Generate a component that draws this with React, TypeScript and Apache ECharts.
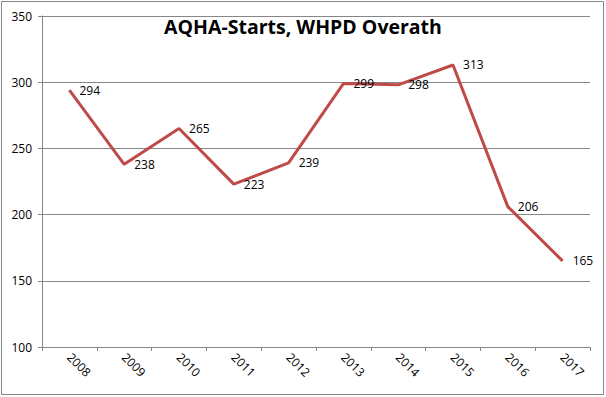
import React, { useEffect, useRef } from "react";
import * as echarts from "echarts";

const years = ["2008", "2009", "2010", "2011", "2012", "2013", "2014", "2015", "2016", "2017"];
const starts = [294, 238, 265, 223, 239, 299, 298, 313, 206, 165];
const titleText = "AQHA-Starts, WHPD Overath";

export default function App() {
  const ref = useRef<HTMLDivElement>(null);
  useEffect(() => {
    if (!ref.current) return;
    const chart = echarts.init(ref.current, null, { renderer: "svg" });
    const font = "'Open Sans', 'Liberation Sans', sans-serif";
    chart.setOption({
      animation: false,
      backgroundColor: "#ffffff",
      title: {
        text: titleText,
        left: "center",
        top: 11,
        textStyle: { fontFamily: font, fontSize: 19.5, fontWeight: "bold", color: "#000" },
      },
      graphic: [
        {
          type: "rect",
          shape: { x: 1.5, y: 1.5, width: 602, height: 393 },
          style: { fill: "none", stroke: "#868686", lineWidth: 1 },
          silent: true,
        },
      ],
      grid: { left: 42, right: 16, top: 16, bottom: 50 },
      xAxis: {
        type: "category",
        data: years,
        boundaryGap: true,
        axisLine: { lineStyle: { color: "#868686", width: 1 } },
        axisTick: { show: true, inside: false, length: 4, lineStyle: { color: "#868686" } },
        axisLabel: { rotate: -45, margin: 8, fontFamily: font, fontSize: 12, color: "#000" },
        splitLine: { show: false },
      },
      yAxis: {
        type: "value",
        min: 100,
        max: 350,
        interval: 50,
        axisLine: { show: true, lineStyle: { color: "#868686", width: 1 } },
        axisTick: { show: true, length: 4, lineStyle: { color: "#868686" } },
        axisLabel: { margin: 10, fontFamily: font, fontSize: 12, color: "#000" },
        splitLine: { show: true, lineStyle: { color: "#868686", width: 1 } },
      },
      series: [
        {
          type: "line",
          data: starts,
          symbol: "circle",
          symbolSize: 0.1,
          showSymbol: true,
          lineStyle: { color: "#BE4B48", width: 3 },
          itemStyle: { color: "#BE4B48" },
          label: {
            show: true,
            position: "right",
            distance: 10,
            fontFamily: font,
            fontSize: 12,
            color: "#000",
          },
        },
      ],
    });
    return () => chart.dispose();
  }, []);
  return (
    <div
      ref={ref}
      style={{ position: "fixed", left: 0, top: 0, width: 606, height: 397 }}
    />
  );
}
